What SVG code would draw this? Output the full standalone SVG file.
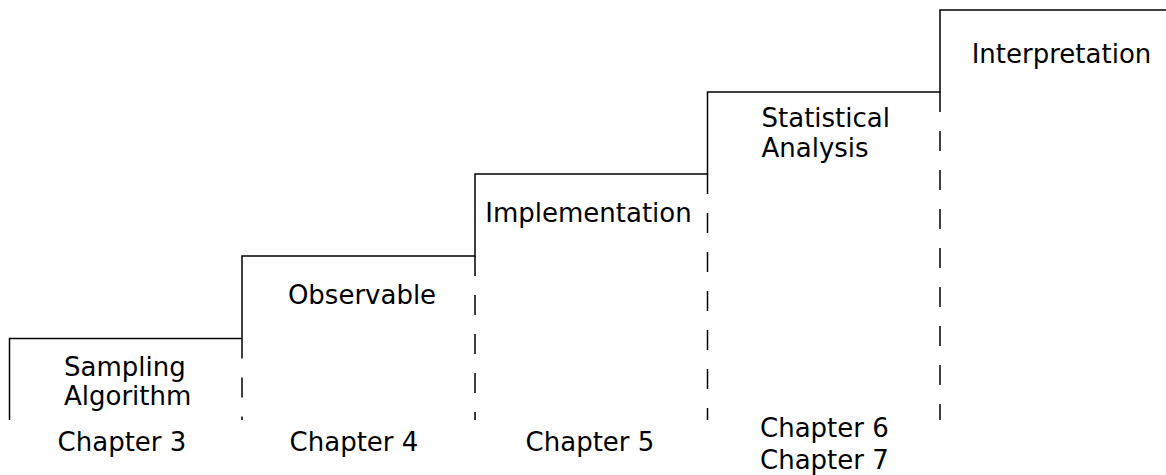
<svg xmlns="http://www.w3.org/2000/svg" width="1166" height="475" viewBox="0 0 1166 475">
<style>
.step{fill:none;stroke:#000;stroke-width:1.5}
.dash{fill:none;stroke:#000;stroke-width:1.5;stroke-dasharray:20 19}
text{font-family:"DejaVu Sans",sans-serif;font-size:26px;fill:#000}
.m{text-anchor:middle}
</style>
<rect width="1166" height="475" fill="#fff"/>
<g id="connectors">
<path class="step" d="M9.5,420 V338.5 H242 V256 H475 V174 H707.5 V92 H940 V10 H1166"/>
<path class="dash" d="M242,338.5 V420"/>
<path class="dash" d="M475,256 V420"/>
<path class="dash" d="M707.5,174 V420"/>
<path class="dash" d="M940,92 V420"/>
</g>
<g id="sampling"><text x="64" y="376">Sampling</text><text x="64" y="405">Algorithm</text></g>
<g id="observable"><text class="m" x="362" y="304">Observable</text></g>
<g id="implementation"><text class="m" x="588.5" y="222">Implementation</text></g>
<g id="statistical"><text x="761.5" y="127">Statistical</text><text x="761.5" y="157">Analysis</text></g>
<g id="interpretation"><text class="m" x="1061.5" y="63">Interpretation</text></g>
<g id="ch3"><text class="m" x="122" y="451">Chapter 3</text></g>
<g id="ch4"><text class="m" x="354" y="451">Chapter 4</text></g>
<g id="ch5"><text class="m" x="590" y="451">Chapter 5</text></g>
<g id="ch67"><text x="760" y="437">Chapter 6</text><text x="760" y="469">Chapter 7</text></g>
</svg>
